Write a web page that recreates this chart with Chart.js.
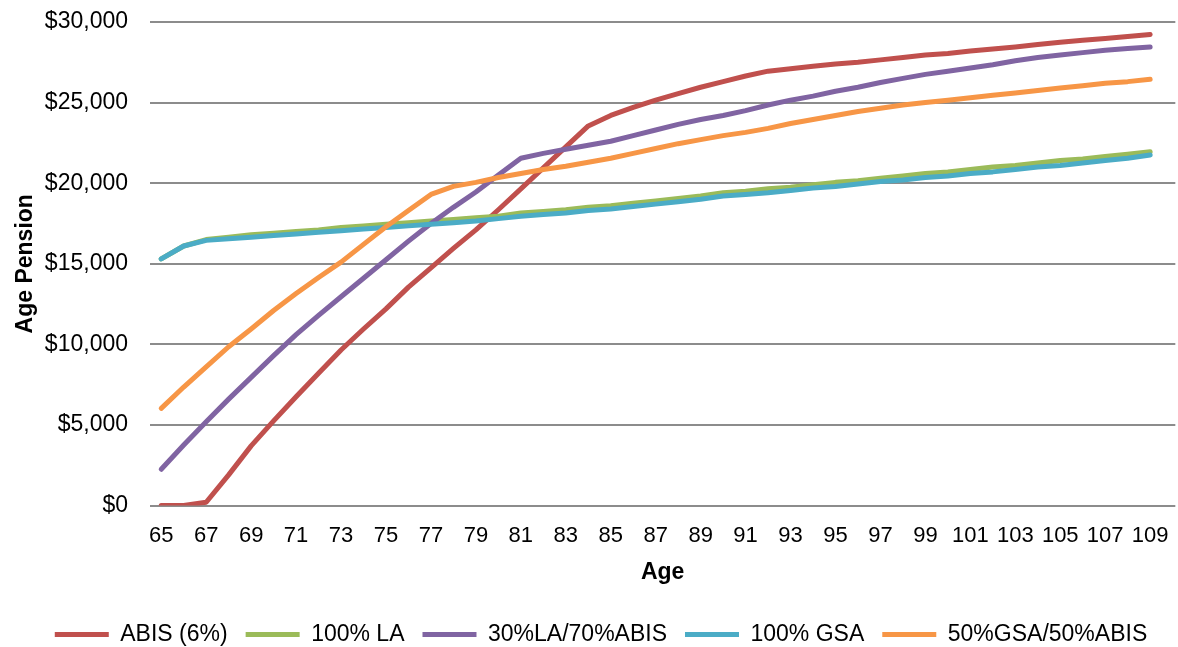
<!DOCTYPE html>
<html>
<head>
<meta charset="utf-8">
<script src="https://cdn.jsdelivr.net/npm/chart.js@4.4.1/dist/chart.umd.min.js"></script>
<style>
  html, body { margin: 0; padding: 0; background: #ffffff; }
  #wrap { width: 1178px; height: 647px; position: relative; }
</style>
</head>
<body>
<div id="wrap"><canvas id="chart" width="1178" height="647"></canvas></div>
<script>
// Ages on the horizontal axis
const ages = [65,66,67,68,69,70,71,72,73,74,75,76,77,78,79,80,81,82,83,84,85,86,87,88,89,90,
  91,92,93,94,95,96,97,98,99,100,101,102,103,104,105,106,107,108,109];

// Age labels printed under the axis (every second age)
const ageTickLabels = [65,67,69,71,73,75,77,79,81,83,85,87,89,91,93,95,97,99,101,103,105,107,109];

// Annual Age Pension by strategy ($)
const abis6 = [0,0,200,1900,3700,5250,6750,8200,9650,10950,
  12200,13550,14750,15950,17100,18350,19650,20950,22250,23550,
  24200,24700,25150,25550,25950,26300,26650,26950,27100,27250,
  27400,27500,27650,27800,27950,28050,28200,28330,28450,28600,
  28750,28870,28970,29100,29230];

const la100 = [15300,16100,16500,16650,16800,16900,17000,17100,17250,17350,
  17450,17550,17650,17750,17850,17950,18150,18250,18350,18500,
  18600,18750,18900,19050,19200,19400,19500,19650,19750,19900,
  20050,20150,20300,20450,20600,20700,20850,21000,21100,21250,
  21400,21500,21650,21800,21950];

const la30abis70 = [2250,3750,5200,6600,7950,9300,10600,11800,12950,14100,
  15250,16400,17500,18500,19450,20500,21550,21850,22100,22350,
  22600,22950,23300,23650,23950,24200,24500,24850,25150,25400,
  25700,25950,26250,26500,26750,26950,27150,27350,27600,27800,
  27950,28100,28250,28350,28450];

const gsa100 = [15300,16100,16450,16550,16650,16750,16850,16950,17050,17150,
  17250,17350,17450,17550,17650,17800,17950,18050,18150,18300,
  18400,18550,18700,18850,19000,19200,19300,19400,19550,19700,
  19800,19950,20100,20200,20350,20450,20600,20700,20850,21000,
  21100,21250,21400,21550,21750];

const gsa50abis50 = [6030,7350,8600,9850,10950,12100,13150,14150,15100,16200,
  17300,18300,19300,19800,20050,20350,20600,20850,21050,21300,
  21550,21850,22150,22450,22700,22950,23150,23400,23700,23950,
  24200,24450,24650,24850,25000,25150,25300,25450,25600,25750,
  25900,26050,26200,26300,26450];

const seriesNames = ['ABIS (6%)', '100% LA', '30%LA/70%ABIS', '100% GSA', '50%GSA/50%ABIS'];
const seriesValues = [abis6, la100, la30abis70, gsa100, gsa50abis50];
const seriesColors = ['#C0504D', '#9BBB59', '#8064A2', '#4BACC6', '#F79646'];

const FONT = "'Liberation Sans', Arial, Helvetica, sans-serif";

const datasets = seriesNames.map((name, i) => ({
  label: name,
  data: ages.map((a, k) => ({ x: a, y: seriesValues[i][k] })),
  borderColor: seriesColors[i],
  backgroundColor: seriesColors[i],
  borderWidth: 5,
  borderCapStyle: 'round',
  borderJoinStyle: 'round',
  pointRadius: 0,
  pointHoverRadius: 0,
  tension: 0,
  fill: false,
  order: seriesNames.length - 1 - i   // later series painted over earlier ones
}));

// Nudge the legend row slightly right of the canvas centre
const legendShift = {
  id: 'legendShift',
  afterLayout(chart) {
    if (chart.legend) {
      chart.legend.left += 12;
      chart.legend.right += 12;
    }
  }
};

new Chart(document.getElementById('chart'), {
  type: 'line',
  data: { datasets },
  plugins: [legendShift],
  options: {
    responsive: false,
    animation: false,
    events: [],
    layout: { padding: { top: 22, right: 0, bottom: -9, left: 0 } },
    plugins: {
      tooltip: { enabled: false },
      legend: {
        position: 'bottom',
        labels: {
          usePointStyle: true,
          pointStyle: 'line',
          pointStyleWidth: 54,
          padding: 18,
          color: '#000000',
          font: { family: FONT, size: 23 },
          sort: (a, b) => a.datasetIndex - b.datasetIndex
        }
      }
    },
    scales: {
      x: {
        type: 'linear',
        min: 64.5,
        max: 110.12,
        grid: { display: false },
        border: { display: false },
        afterBuildTicks: (axis) => {
          axis.ticks = ageTickLabels.map(v => ({ value: v }));
        },
        afterFit: (scale) => { scale.height = 99.5; },
        ticks: {
          autoSkip: false,
          maxRotation: 0,
          minRotation: 0,
          padding: 9.5,
          color: '#000000',
          font: { family: FONT, size: 22 },
          callback: (v) => String(v)
        },
        title: {
          display: true,
          text: 'Age',
          color: '#000000',
          font: { family: FONT, size: 23, weight: 'bold' },
          padding: { top: 0, bottom: 19 }
        }
      },
      y: {
        min: 0,
        max: 30000,
        afterFit: (scale) => {
          scale.width = 150;
          scale.paddingTop = 0;
          scale.paddingBottom = 0;
        },
        grid: { color: '#8c8c8c', lineWidth: 2, drawTicks: false },
        border: { display: false },
        ticks: {
          stepSize: 5000,
          padding: 22,
          color: '#000000',
          font: { family: FONT, size: 23 },
          callback: (v) => '$' + Number(v).toLocaleString('en-US')
        },
        title: {
          display: true,
          text: 'Age Pension',
          color: '#000000',
          font: { family: FONT, size: 23, weight: 'bold' },
          padding: { top: 12, bottom: 4 }
        }
      }
    }
  }
});
</script>
</body>
</html>
